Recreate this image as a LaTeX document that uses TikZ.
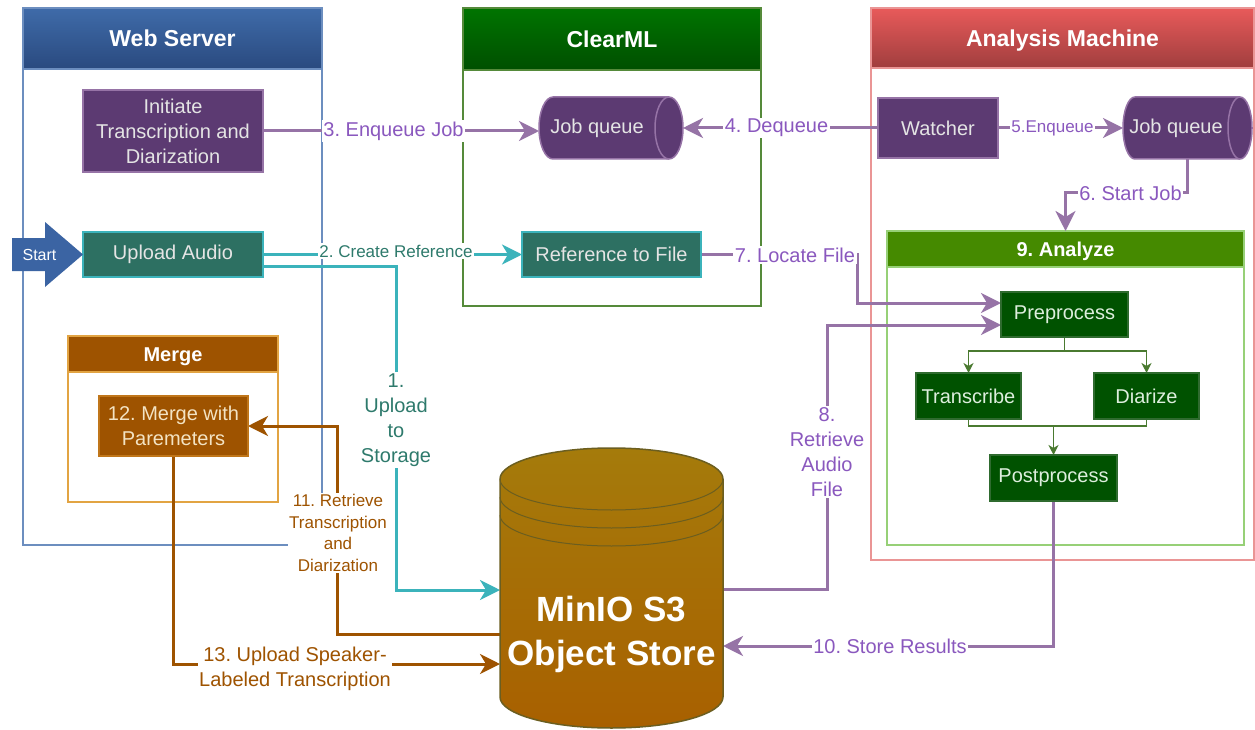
\documentclass[tikz,border=0pt]{standalone}
\usepackage{fontspec}
\setmainfont{Liberation Sans}
\usetikzlibrary{arrows.meta,calc}
\pgfdeclarelayer{cont}
\pgfdeclarelayer{conn}
\pgfsetlayers{cont,conn,main}
\frenchspacing
\definecolor{wsT}{HTML}{3F6BA9}
\definecolor{wsB}{HTML}{2A4A7F}
\definecolor{wsLine}{HTML}{6C8EBF}
\definecolor{cmT}{HTML}{007400}
\definecolor{cmB}{HTML}{004F00}
\definecolor{cmLine}{HTML}{558A3A}
\definecolor{amT}{HTML}{E85A5A}
\definecolor{amB}{HTML}{A03E3E}
\definecolor{amLine}{HTML}{EA9595}
\definecolor{anFill}{HTML}{458A00}
\definecolor{anLine}{HTML}{97D077}
\definecolor{mgFill}{HTML}{9E5300}
\definecolor{mgLine}{HTML}{E2A443}
\definecolor{mBord}{HTML}{C0761A}
\definecolor{mText}{HTML}{F3E3C3}
\definecolor{pFill}{HTML}{5C3A72}
\definecolor{pLine}{HTML}{9673A6}
\definecolor{tFill}{HTML}{2D7062}
\definecolor{tLine}{HTML}{3BB3BB}
\definecolor{gFill}{HTML}{005200}
\definecolor{gBord}{HTML}{2F6B2F}
\definecolor{gArrow}{HTML}{4A7A30}
\definecolor{gText}{HTML}{DDEEDD}
\definecolor{nText}{HTML}{E4E4E4}
\definecolor{pLab}{HTML}{8A58BE}
\definecolor{tLab}{HTML}{2E7A6C}
\definecolor{bLine}{HTML}{9E5300}
\definecolor{cyT}{HTML}{A57B0B}
\definecolor{cyB}{HTML}{A86000}
\definecolor{cyLine}{HTML}{6B5E20}
\definecolor{startFill}{HTML}{3B64A3}
\begin{document}
\begin{tikzpicture}[x=1pt,y=-1pt,line join=miter,
  every node/.style={inner sep=0pt,outer sep=0pt},
  f20/.style={font=\fontsize{20}{25}\selectfont},
  f17/.style={font=\fontsize{17}{21.5}\selectfont},
  container/.style={draw=#1,line width=2pt,fill=white},
  hdr/.style={draw=#1,line width=2pt,text=white,font=\bfseries\fontsize{23}{28}\selectfont,text height=16.5pt,text depth=-1.5pt},
  shdr/.style={draw=#1,line width=2pt,text=white,font=\bfseries\fontsize{20}{24}\selectfont,text height=14.3pt,text depth=-1.5pt},
  box/.style={line width=1.5pt,align=center,f20},
  pbox/.style={box,draw=pLine,fill=pFill,text=nText},
  tbox/.style={box,draw=tLine,fill=tFill,text=nText},
  gbox/.style={box,draw=gBord,fill=gFill,text=gText},
  mbox/.style={box,draw=mBord,fill=mgFill,text=mText},
  cyl/.style={draw=pLine,fill=pFill,line width=1.5pt},
  tip/.style={-{Stealth[length=20pt,width=20pt,inset=6pt]}},
  pc/.style={draw=pLine,line width=3pt,tip},
  tc/.style={draw=tLine,line width=3pt,tip},
  bc/.style={draw=bLine,line width=3pt,tip},
  gcn/.style={draw=gArrow,line width=1.5pt},
  gc/.style={gcn,-{Stealth[length=10pt,width=10pt,inset=3pt]}},
  lab/.style={fill=white,inner sep=1.5pt,align=center,f20},
  plab/.style={lab,text=pLab},
  tlab/.style={lab,text=tLab},
  blab/.style={lab,text=bLine}]
\useasboundingbox (0,0) rectangle (1255,730);

% ---------- containers ----------
\begin{pgfonlayer}{cont}
\node[container=wsLine,minimum width=299pt,minimum height=537pt] (ws) at (172.5,276.5) {};
\node[hdr=wsLine,top color=wsT,bottom color=wsB,minimum width=299pt,minimum height=61pt] (wsh) at (172.5,38.5) {Web Server};
\node[container=cmLine,minimum width=298pt,minimum height=298pt] (cm) at (612,157) {};
\node[hdr=cmLine,top color=cmT,bottom color=cmB,minimum width=298pt,minimum height=62pt] (cmh) at (612,39) {ClearML};
\node[container=amLine,minimum width=383pt,minimum height=552pt] (am) at (1062.5,284) {};
\node[hdr=amLine,top color=amT,bottom color=amB,minimum width=383pt,minimum height=60pt] (amh) at (1062.5,38) {Analysis Machine};
\node[container=anLine,minimum width=357pt,minimum height=314pt] (an) at (1065.5,388) {};
\node[shdr=anLine,fill=anFill,minimum width=357pt,minimum height=36pt] (anh) at (1065.5,249) {9. Analyze};
\node[container=mgLine,minimum width=210pt,minimum height=166pt] (mg) at (173,419) {};
\node[shdr=mgLine,fill=mgFill,minimum width=210pt,minimum height=36pt] (mgh) at (173,354) {Merge};
\end{pgfonlayer}

% ---------- nodes ----------
\node[pbox,minimum width=180pt,minimum height=82pt] (init) at (173,131) {Initiate\\Transcription and\\Diarization};
\node[tbox,minimum width=180pt,minimum height=45pt] (ua) at (173,254.5) {Upload Audio};
\node[tbox,minimum width=179pt,minimum height=45pt] (ref) at (611.5,254.5) {Reference to File};
\node[pbox,minimum width=120pt,minimum height=60pt] (watcher) at (938,128) {Watcher};
\node[gbox,minimum width=127pt,minimum height=45pt] (pre) at (1064.5,314.5) {Preprocess};
\node[gbox,minimum width=105pt,minimum height=46pt] (trans) at (968.5,396) {Transcribe};
\node[gbox,minimum width=105pt,minimum height=46pt] (diar) at (1146.5,396) {Diarize};
\node[gbox,minimum width=127pt,minimum height=46pt] (post) at (1053.5,478) {Postprocess};
\node[mbox,minimum width=149pt,minimum height=60pt] (m12) at (173.5,426) {12. Merge with\\Paremeters};

% start arrow
\fill[startFill] (12,238) -- (45,238) -- (45,222) -- (83,254.5) -- (45,287) -- (45,271) -- (12,271) -- cycle;
\node[text=white,font=\fontsize{16}{19}\selectfont] (start) at (39.5,255) {Start};

% job queue 1
\node[minimum width=144pt,minimum height=62pt] (jq1) at (611,128) {};
\draw[cyl] (553,97) -- (669,97) arc[start angle=90,end angle=-90,x radius=14pt,y radius=31pt] -- (553,159) arc[start angle=270,end angle=90,x radius=14pt,y radius=31pt] -- cycle;
\draw[draw=pLine,line width=1.5pt] (669,97) arc[start angle=90,end angle=270,x radius=14pt,y radius=31pt];
\node[text=nText,f20] (jq1t) at (597,128) {Job queue};

% job queue 2
\node[minimum width=129pt,minimum height=62pt] (jq2) at (1187.5,128) {};
\draw[cyl] (1135,97) -- (1240,97) arc[start angle=90,end angle=-90,x radius=12pt,y radius=31pt] -- (1135,159) arc[start angle=270,end angle=90,x radius=12pt,y radius=31pt] -- cycle;
\draw[draw=pLine,line width=1.5pt] (1240,97) arc[start angle=90,end angle=270,x radius=12pt,y radius=31pt];
\node[text=nText,f20] (jq2t) at (1176,128) {Job queue};

% MinIO cylinder
\node[minimum width=223pt,minimum height=280pt] (minio) at (611.5,588) {};
\shade[top color=cyT,bottom color=cyB] (500,479) -- (500,697) arc[start angle=180,end angle=360,x radius=111.5pt,y radius=31pt] -- (723,479) arc[start angle=0,end angle=180,x radius=111.5pt,y radius=31pt] -- cycle;
\draw[draw=cyLine,line width=1.5pt] (500,479) -- (500,697) arc[start angle=180,end angle=360,x radius=111.5pt,y radius=31pt] -- (723,479) arc[start angle=0,end angle=180,x radius=111.5pt,y radius=31pt] -- cycle;
\draw[draw=cyLine,line width=1pt] (500,479) arc[start angle=180,end angle=360,x radius=111.5pt,y radius=31pt];
\draw[draw=cyLine,line width=1pt] (500,497) arc[start angle=180,end angle=360,x radius=111.5pt,y radius=31pt];
\draw[draw=cyLine,line width=1pt] (500,515) arc[start angle=180,end angle=360,x radius=111.5pt,y radius=31pt];
\node[text=white,align=center,font=\bfseries\fontsize{35}{44}\selectfont] (miniot) at (611.5,634) {MinIO S3\\Object Store};

% ---------- connectors ----------
\coordinate (b1) at (396,590);
\coordinate (b7) at (857,303);
\coordinate (b8) at (827,325);
\coordinate (b11) at (337,426);
\coordinate (s6) at (1187.5,193);
\coordinate (sp) at (1064.5,351);
\coordinate (jn) at (1053.5,426);
\begin{pgfonlayer}{conn}
\draw[pc] (init.east) -- (init.east -| jq1.west);
\draw[pc] (watcher.west) -- (watcher.west -| jq1.east);
\draw[pc] (watcher.east) -- (watcher.east -| jq2.west);
\draw[pc] (jq2.south) -- (s6) -| (anh.north);
\draw[tc] (ua.east) -- (ref.west);
\draw[tc] ([yshift=-11.5pt]ua.east) -| (b1) -- (b1 -| minio.west);
\draw[pc] (ref.east) -| (b7) -- (b7 -| pre.west);
\draw[pc] ([yshift=-1pt]minio.east) -| (b8) -- (b8 -| pre.west);
\draw[pc] (post.south) |- ([yshift=-58pt]minio.east);
\draw[bc] ([yshift=-46pt]minio.west) -| (b11) -- (m12.east);
\draw[bc] (m12.south) |- ([yshift=-76pt]minio.west);
\draw[gcn] (pre.south) -- (sp);
\draw[gc] (sp) -| (trans.north);
\draw[gc] (sp) -| (diar.north);
\draw[gcn] (trans.south) |- (jn) -| (diar.south);
\draw[gc] (jn) -- (post.north);
\end{pgfonlayer}

% ---------- labels ----------
\node[plab] (l3) at (393.5,131) {3. Enqueue Job};
\node[plab] (l4) at (776.5,128) {4. Dequeue};
\node[plab,f17] (l5) at (1052.5,128) {5.Enqueue};
\node[plab] (l6) at (1130.5,193) {6. Start Job};
\node[tlab,f17] (l2) at (396,251) {2. Create Reference};
\node[tlab] (l1) at (396,420) {1.\\Upload\\to\\Storage};
\node[plab] (l7) at (795,255) {7. Locate File};
\node[plab] (l8) at (827,452) {8.\\Retrieve\\Audio\\File};
\node[plab] (l10) at (890,646) {10. Store Results};
\node[blab,f17] (l11) at (338,533) {11. Retrieve\\Transcription\\and\\Diarization};
\node[blab] (l13) at (295,669) {13. Upload Speaker-\\Labeled Transcription};
\end{tikzpicture}
\end{document}
